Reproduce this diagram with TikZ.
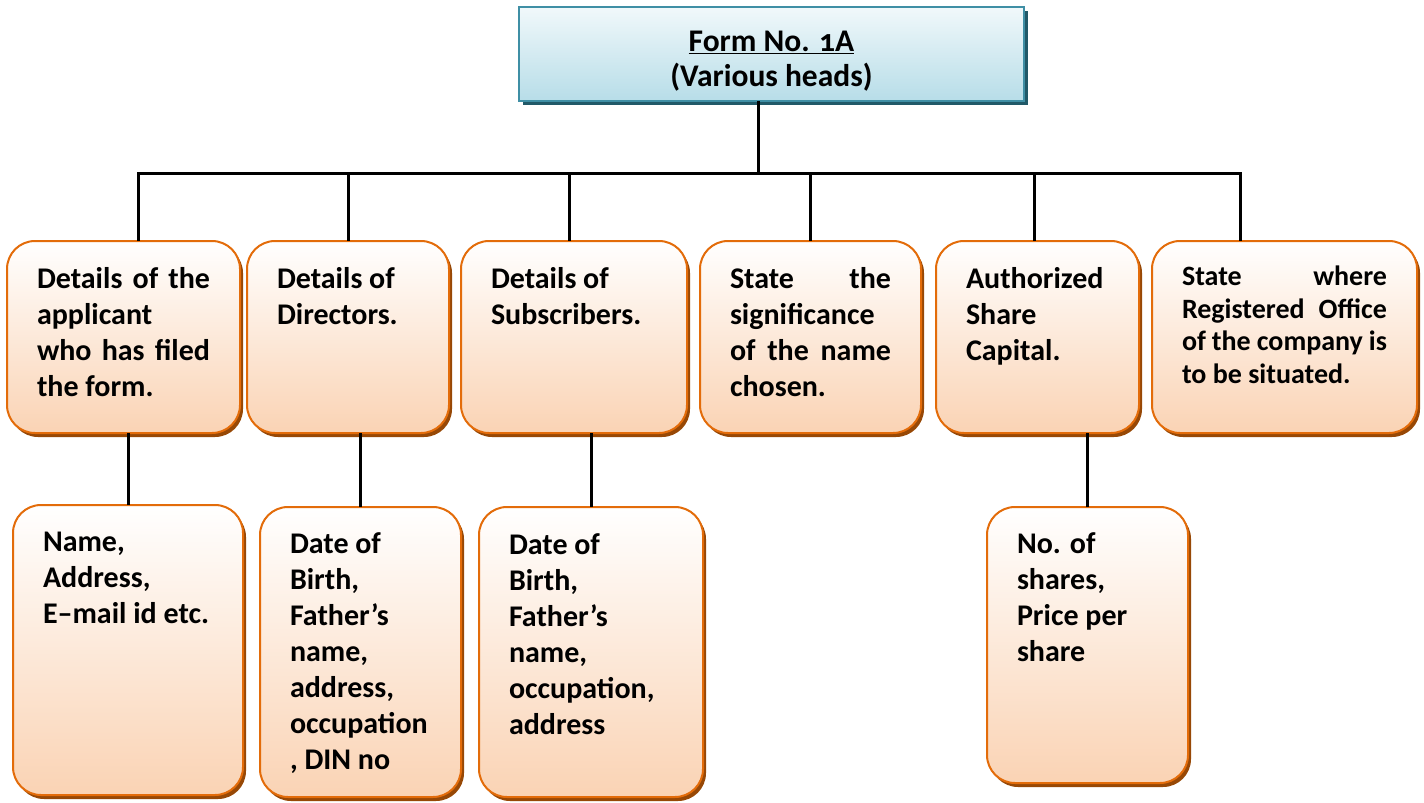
\documentclass[tikz,border=0pt]{standalone}
\usepackage{fontspec}
\setmainfont{Carlito}
\usepackage{tikz}
\usetikzlibrary{shapes, shadows, positioning}
\usepackage{xcolor}
\definecolor{headline}{HTML}{3F8FA5}
\definecolor{headfill}{HTML}{B7DDE8}
\definecolor{headshade}{HTML}{215968}
\definecolor{itemline}{HTML}{E36C0A}
\definecolor{itemfill}{HTML}{FAD3B4}
\definecolor{itemshade}{HTML}{974806}
\newcommand{\bodyfont}{\fontsize{30}{36}\selectfont\bfseries}
\newcommand{\smallbody}{\fontsize{28}{32.5}\selectfont\bfseries}
\newcommand{\titlefont}{\fontsize{31.5}{35}\selectfont\bfseries}
% text block of a box: width, height, gap above the first line
\newcommand{\cell}[4]{\parbox[c][#2][t]{#1}{\raggedright\vspace*{#3}#4}}
\tikzstyle{heading} = [
    rectangle,
    draw=headline,
    line width=2pt,
    top color=headfill!20,
    bottom color=headfill,
    drop shadow={shadow xshift=3.5pt, shadow yshift=-4pt, fill=headshade, opacity=1},
    inner sep=0pt,
    outer sep=0pt,
    font=\titlefont
]
\tikzstyle{item} = [
    rectangle,
    rounded corners=28pt,
    draw=itemline,
    line width=2pt,
    top color=white,
    bottom color=itemfill,
    drop shadow={shadow xshift=3pt, shadow yshift=-4pt, fill=itemshade, opacity=1},
    inner xsep=30pt,
    inner ysep=0pt,
    outer sep=0pt,
    anchor=north west,
    font=\bodyfont
]
\tikzstyle{link} = [draw=black, line width=3pt]

\begin{document}
\begin{tikzpicture}[x=1pt, y=-1pt]
    \useasboundingbox (0,0) rectangle (1424,803);

    \node[heading, anchor=north west] (form) at (519,7)
        {\parbox[c][94pt][t]{505pt}{\centering\vspace*{24pt}%
         \underline{Form No. {\addfontfeatures{Numbers=OldStyle}1}A}\\(Various heads)}};

    % first row
    \node[item] (applicant) at (7,241)
        {\cell{173pt}{192pt}{26pt}{Details\hfill of\hfill the\\applicant\\who\hfill has\hfill filed\\the form.}};
    \node[item, right=7pt of applicant.north east, anchor=north west] (directors)
        {\cell{142pt}{192pt}{26pt}{Details of\\Directors.}};
    \node[item, right=12pt of directors.north east, anchor=north west] (subscribers)
        {\cell{166pt}{192pt}{26pt}{Details of\\Subscribers.}};
    \node[item, right=13pt of subscribers.north east, anchor=north west] (significance)
        {\cell{161pt}{192pt}{26pt}{State\hfill the\\significance\\of\hfill the\hfill name\\chosen.}};
    \node[item, right=15pt of significance.north east, anchor=north west] (capital)
        {\cell{143pt}{192pt}{26pt}{Authorized\\Share\\Capital.}};
    \node[item, right=13pt of capital.north east, anchor=north west] (office)
        {\smallbody\cell{205pt}{192pt}{25pt}{State\hfill where\\Registered\hfill Office\\of the company is\\to be situated.}};

    % second row
    \node[item] (contact) at (13,505)
        {\cell{170pt}{290pt}{27pt}{Name,\\Address,\\E--mail id etc.}};
    \node[item] (directorinfo) at (260,507)
        {\cell{141pt}{290pt}{26pt}{Date of\\Birth,\\Father’s\\name,\\address,\\occupation\\, DIN no}};
    \node[item] (subscriberinfo) at (479,507)
        {\cell{164pt}{290pt}{27pt}{Date of\\Birth,\\Father’s\\name,\\occupation,\\address}};
    \node[item] (shareinfo) at (987,507)
        {\cell{141pt}{276pt}{26pt}{No. of\\shares,\\Price per\\share}};

    % connectors
    \coordinate (hub) at (758,173);
    \coordinate (a1) at ([xshift=14.5pt]applicant.north);
    \coordinate (a2) at (directors.north);
    \coordinate (a3) at ([xshift=-5pt]subscribers.north);
    \coordinate (a4) at (significance.north);
    \coordinate (a5) at ([xshift=-3.5pt]capital.north);
    \coordinate (a6) at ([xshift=-44.5pt]office.north);
    \draw[link] (hub |- form.south) -- (hub);
    \draw[link] (a1) -- (a1 |- hub) -- (a6 |- hub) -- (a6);
    \foreach \n in {a2, a3, a4, a5}
        \draw[link] (\n |- hub) -- (\n);
    \draw[link] (contact.north) -- (contact.north |- applicant.south);
    \draw[link] (directorinfo.north) -- (directorinfo.north |- directors.south);
    \draw[link] (subscriberinfo.north) -- (subscriberinfo.north |- subscribers.south);
    \draw[link] (shareinfo.north) -- (shareinfo.north |- capital.south);
\end{tikzpicture}
\end{document}
